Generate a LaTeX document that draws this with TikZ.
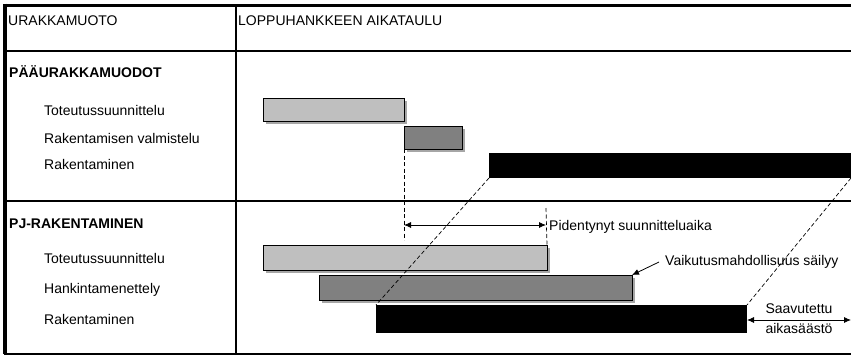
\documentclass[tikz,border=0pt]{standalone}
\usepackage{fontspec}
\setmainfont{Liberation Sans}
\usetikzlibrary{arrows.meta,shadows}
\begin{document}
\begin{tikzpicture}[x=1pt,y=-1pt,
  lbl/.style={anchor=base west,inner sep=0pt,font=\fontsize{14}{16}\selectfont},
  hdr/.style={lbl,font=\fontsize{14}{16}\selectfont\bfseries},
  bar/.style={draw=black,line width=0.8pt,inner sep=0pt,outer sep=0pt,anchor=north west,
     drop shadow={shadow xshift=2.5pt,shadow yshift=-2.5pt,fill=black!35,opacity=1}},
  lightbar/.style={bar,fill=black!25},
  darkbar/.style={bar,fill=black!50},
  blackbar/.style={draw=none,fill=black,inner sep=0pt,outer sep=0pt,anchor=north west},
  frame/.style={line width=2pt,black},
  dline/.style={dashed,line width=0.7pt,dash pattern=on 4pt off 2.5pt},
  arr/.style={line width=0.8pt,-{Latex[length=7pt,width=6pt]}},
  darr/.style={line width=0.8pt,{Latex[length=7pt,width=6pt]}-{Latex[length=7pt,width=6pt]}}]
\useasboundingbox (0,0) rectangle (851,357);
% frame
\draw[line width=3.5pt] (5,3.5) -- (5,354);
\draw[line width=3pt] (3.5,5) -- (851,5);
\draw[frame] (3.5,51) -- (851,51);
\draw[frame] (3.5,201) -- (851,201);
\draw[frame] (3.5,353.5) -- (851,353.5);
\draw[frame] (235.5,5) -- (235.5,353.5);
% headers
\node[lbl] (h1) at (8,25) {URAKKAMUOTO};
\node[lbl] (h2) at (238,25) {LOPPUHANKKEEN AIKATAULU};
\node[hdr] (s1) at (9,77) {PÄÄURAKKAMUODOT};
\node[lbl] (t1) at (44,115) {Toteutussuunnittelu};
\node[lbl] (t2) at (44,143) {Rakentamisen valmistelu};
\node[lbl] (t3) at (44,169) {Rakentaminen};
\node[hdr] (s2) at (9,228) {PJ-RAKENTAMINEN};
\node[lbl] (t4) at (44,263) {Toteutussuunnittelu};
\node[lbl] (t5) at (44,293) {Hankintamenettely};
\node[lbl] (t6) at (44,324) {Rakentaminen};
% bars upper
\node[lightbar,minimum width=141pt,minimum height=23pt] (b1) at (263,98) {};
\node[darkbar,minimum width=58pt,minimum height=23pt] (b2) at (404,126) {};
\node[blackbar,minimum width=362pt,minimum height=25pt] (b3) at (489,153) {};
% bars lower
\node[lightbar,minimum width=284pt,minimum height=25pt] (b4) at (263,245) {};
\node[darkbar,minimum width=313pt,minimum height=25pt] (b5) at (319,275) {};
\node[blackbar,minimum width=371pt,minimum height=28pt] (b6) at (376,305) {};
% dashed guides
\coordinate (d1e) at (404,240);
\draw[dline] (b2.south west) -- (d1e);
\coordinate (d2s) at (546,208);
\draw[dline] (d2s) -- (b4.north east);
\draw[dline] (b3.south west) -- (b6.north west);
\draw[dline] (b3.south east) -- (b6.north east);
% extended planning arrow
\coordinate (pa) at (404,225);
\coordinate (pb) at (546,225);
\draw[darr] (pa) -- (pb);
\node[lbl] (pid) at (549,230) {Pidentynyt suunnitteluaika};
% influence arrow
\node[lbl] (vai) at (665,265) {Vaikutusmahdollisuus säilyy};
\coordinate (va) at (659,262);
\draw[arr] (va) -- (b5.north east);
% time saving
\coordinate (sb) at (851,320);
\draw[darr] (b6.east |- sb) -- (sb);
\node[anchor=base,inner sep=0pt,font=\fontsize{14}{16}\selectfont] (sa1) at (799,313) {Saavutettu};
\node[anchor=base,inner sep=0pt,font=\fontsize{14}{16}\selectfont] (sa2) at (799,333) {aikasäästö};
\end{tikzpicture}
\end{document}
